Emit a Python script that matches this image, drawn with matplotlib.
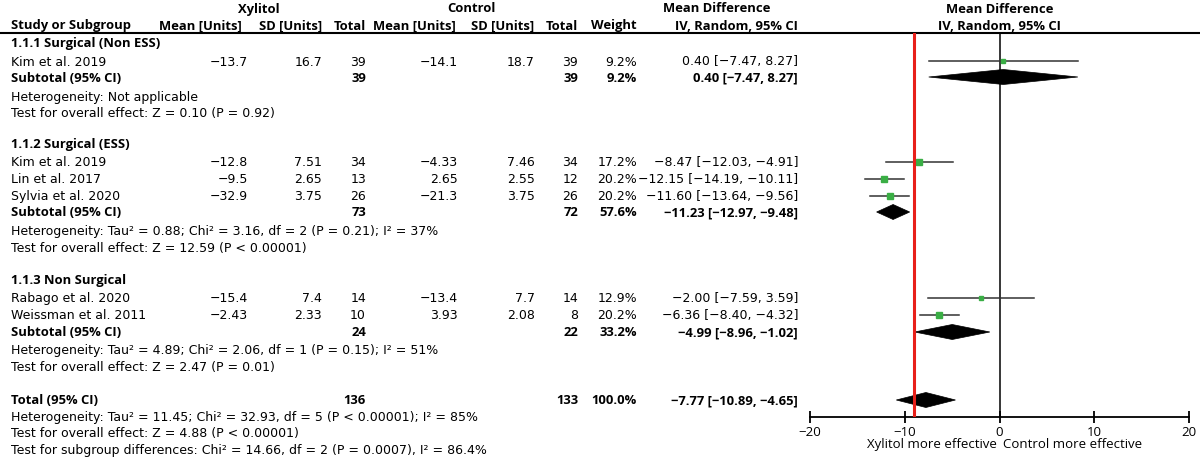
"""
Forest plot: Xylitol vs Control, mean difference (IV, Random, 95% CI).
"""

import matplotlib
matplotlib.use('Agg')
import matplotlib.pyplot as plt
from matplotlib.patches import Polygon

plt.rcParams['font.family'] = ['DejaVu Sans']

# ---------------------------------------------------------------------------
# Data
# ---------------------------------------------------------------------------
group_names = ['1.1.1 Surgical (Non ESS)', '1.1.2 Surgical (ESS)', '1.1.3 Non Surgical']

studies = ['Kim et al. 2019', 'Kim et al. 2019', 'Lin et al. 2017',
           'Sylvia et al. 2020', 'Rabago et al. 2020', 'Weissman et al. 2011']
xyl_mean = [-13.7, -12.8, -9.5, -32.9, -15.4, -2.43]
xyl_sd = [16.7, 7.51, 2.65, 3.75, 7.4, 2.33]
xyl_n = [39, 34, 13, 26, 14, 10]
ctl_mean = [-14.1, -4.33, 2.65, -21.3, -13.4, 3.93]
ctl_sd = [18.7, 7.46, 2.55, 3.75, 7.7, 2.08]
ctl_n = [39, 34, 12, 26, 14, 8]
weight = [9.2, 17.2, 20.2, 20.2, 12.9, 20.2]
md = [0.40, -8.47, -12.15, -11.60, -2.00, -6.36]
md_lo = [-7.47, -12.03, -14.19, -13.64, -7.59, -8.40]
md_hi = [8.27, -4.91, -10.11, -9.56, 3.59, -4.32]

sub_xyl_n = [39, 73, 24]
sub_ctl_n = [39, 72, 22]
sub_weight = [9.2, 57.6, 33.2]
sub_md = [0.40, -11.23, -4.99]
sub_lo = [-7.47, -12.97, -8.96]
sub_hi = [8.27, -9.48, -1.02]
sub_het = ['Heterogeneity: Not applicable',
           'Heterogeneity: Tau² = 0.88; Chi² = 3.16, df = 2 (P = 0.21); I² = 37%',
           'Heterogeneity: Tau² = 4.89; Chi² = 2.06, df = 1 (P = 0.15); I² = 51%']
sub_test = ['Test for overall effect: Z = 0.10 (P = 0.92)',
            'Test for overall effect: Z = 12.59 (P < 0.00001)',
            'Test for overall effect: Z = 2.47 (P = 0.01)']

tot_xyl_n = 136
tot_ctl_n = 133
tot_weight = 100.0
tot_md, tot_lo, tot_hi = -7.77, -10.89, -4.65
tot_notes = ['Heterogeneity: Tau² = 11.45; Chi² = 32.93, df = 5 (P < 0.00001); I² = 85%',
             'Test for overall effect: Z = 4.88 (P < 0.00001)',
             'Test for subgroup differences: Chi² = 14.66, df = 2 (P = 0.0007), I² = 86.4%']

ref_line = -9
xticks = [-20, -10, 0, 10, 20]

# ---------------------------------------------------------------------------
# Layout (pixel rows / columns of a 1200x464 canvas)
# ---------------------------------------------------------------------------
W, H = 1200, 464
group_rows = [44, 145, 281]
study_rows = [62, 163, 180, 197, 299, 316]
sub_rows = [78, 213, 333]
het_rows = [97, 232, 351]
test_rows = [113, 249, 368]
total_row = 401
total_note_rows = [418, 434, 451]

col_xm, col_xs, col_xt = 248, 322, 366
col_cm, col_cs, col_ct = 458, 535, 578
col_w, col_ci = 637, 798
FS = 9
GREEN = '#3aae45'
OPEN = ['Open Sans', 'DejaVu Sans']


def num(v, fmt='g'):
    return format(v, fmt).replace('-', '\u2212')


def ci_text(m, lo, hi):
    return f'{num(m, ".2f")} [{num(lo, ".2f")}, {num(hi, ".2f")}]'


fig = plt.figure(figsize=(12, 4.64), dpi=100)
ax = fig.add_axes([0, 0, 1, 1])
ax.set_xlim(0, W)
ax.set_ylim(H, 0)
ax.axis('off')

# forest axes: x from -20..20 at px 810..1189, y rows in px 34..418
top_px, bot_px = 34, 418
axf = fig.add_axes([810 / W, (H - bot_px) / H, 379 / W, (bot_px - top_px) / H])
axf.set_xlim(-20, 20)
axf.set_ylim(bot_px, top_px)
axf.patch.set_alpha(0)
for s in ['top', 'left', 'right']:
    axf.spines[s].set_visible(False)
axf.spines['bottom'].set_linewidth(1.3)
axf.set_yticks([])
axf.set_xticks(xticks)
axf.set_xticklabels([num(t, 'd') for t in xticks], fontsize=FS + 0.5, family=OPEN)
axf.tick_params(axis='x', direction='inout', length=9, width=1.3, pad=1)

# ---------------------------------------------------------------------------
# Header
# ---------------------------------------------------------------------------
bold = dict(fontsize=9.4, fontweight='bold', va='center', family=OPEN)
ax.text(259, 9, 'Xylitol', ha='center', **bold)
ax.text(471, 9, 'Control', ha='center', **bold)
ax.text(717, 9, 'Mean Difference', ha='center', **bold)
ax.text(11, 26, 'Study or Subgroup', ha='left', **bold)
for x, lab in [(242, 'Mean [Units]'), (col_xs, 'SD [Units]'), (col_xt, 'Total'),
               (456, 'Mean [Units]'), (534, 'SD [Units]'), (col_ct, 'Total'),
               (col_w, 'Weight'), (col_ci, 'IV, Random, 95% CI')]:
    ax.text(x, 26, lab, ha='right', **bold)
axf.text(0, 9, 'Mean Difference', ha='center', **bold)
axf.text(0, 26, 'IV, Random, 95% CI', ha='center', **bold)
ax.plot([0, W], [top_px, top_px], color='black', lw=1.5)

# ---------------------------------------------------------------------------
# Table rows
# ---------------------------------------------------------------------------
txt = dict(fontsize=FS, va='center')
for g, name in enumerate(group_names):
    ax.text(11, group_rows[g], name, ha='left', **bold)

for i, name in enumerate(studies):
    y = study_rows[i]
    ax.text(11, y, name, ha='left', **txt)
    ax.text(col_xm, y, num(xyl_mean[i]), ha='right', **txt)
    ax.text(col_xs, y, num(xyl_sd[i]), ha='right', **txt)
    ax.text(col_xt, y, str(xyl_n[i]), ha='right', **txt)
    ax.text(col_cm, y, num(ctl_mean[i]), ha='right', **txt)
    ax.text(col_cs, y, num(ctl_sd[i]), ha='right', **txt)
    ax.text(col_ct, y, str(ctl_n[i]), ha='right', **txt)
    ax.text(col_w, y, f'{weight[i]:.1f}%', ha='right', **txt)
    ax.text(col_ci, y, ci_text(md[i], md_lo[i], md_hi[i]), ha='right', **txt)
    # CI line and weighted square
    axf.plot([md_lo[i], md_hi[i]], [y, y], color='#333333', lw=1.1, zorder=3)
    ms = (3 + 0.13 * weight[i]) * 0.72
    axf.plot(md[i], y, marker='s', ms=ms, color=GREEN, mec=GREEN, zorder=4)


def diamond(m, lo, hi, y, h=7.5):
    axf.add_patch(Polygon([(lo, y), (m, y - h), (hi, y), (m, y + h)],
                          closed=True, facecolor='black', edgecolor='black',
                          lw=0.5, zorder=4))


for g in range(len(group_names)):
    y = sub_rows[g]
    ax.text(11, y, 'Subtotal (95% CI)', ha='left', **bold)
    ax.text(col_xt, y, str(sub_xyl_n[g]), ha='right', **bold)
    ax.text(col_ct, y, str(sub_ctl_n[g]), ha='right', **bold)
    ax.text(col_w, y, f'{sub_weight[g]:.1f}%', ha='right', **bold)
    ax.text(col_ci, y, ci_text(sub_md[g], sub_lo[g], sub_hi[g]), ha='right', **bold)
    ax.text(11, het_rows[g], sub_het[g], ha='left', **txt)
    ax.text(11, test_rows[g], sub_test[g], ha='left', **txt)
    diamond(sub_md[g], sub_lo[g], sub_hi[g], y)

# Total
ax.text(11, total_row, 'Total (95% CI)', ha='left', **bold)
ax.text(col_xt, total_row, str(tot_xyl_n), ha='right', **bold)
ax.text(col_ct, total_row, str(tot_ctl_n), ha='right', **bold)
ax.text(col_w, total_row, f'{tot_weight:.1f}%', ha='right', **bold)
ax.text(col_ci, total_row, ci_text(tot_md, tot_lo, tot_hi), ha='right', **bold)
for y, note in zip(total_note_rows, tot_notes):
    ax.text(11, y, note, ha='left', **txt)
diamond(tot_md, tot_lo, tot_hi, total_row)

# reference lines
axf.axvline(0, color='black', lw=1.1, zorder=2)
axf.axvline(ref_line, color='#e8201a', lw=2.2, zorder=5)

# direction labels
lab = dict(va='center', fontsize=FS + 0.5, family=OPEN)
axf.text(-0.3, 445, 'Xylitol more effective', ha='right', **lab)
axf.text(0.4, 445, 'Control more effective', ha='left', **lab)

fig.savefig('out.png', dpi=100, facecolor='white')
